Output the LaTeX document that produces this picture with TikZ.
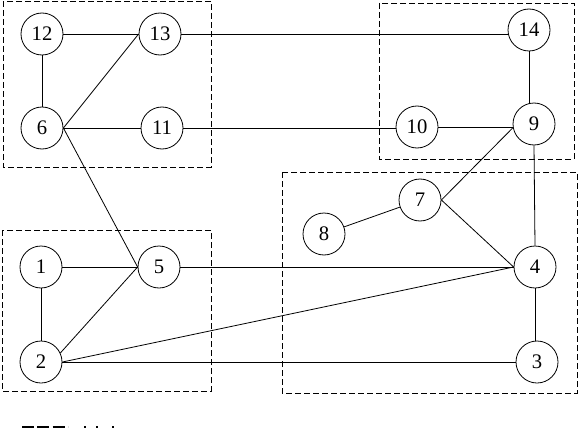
\documentclass[tikz,border=0pt]{standalone}
\usepackage{fontspec}
\setmainfont{Liberation Serif}
\begin{document}
\begin{tikzpicture}[x=0.75pt,y=-0.75pt,
  vtx/.style={circle,draw,line width=0.6pt,minimum size=31.5pt,inner sep=0pt,font=\fontsize{15.5}{15.5}\selectfont},
  grp/.style={draw,line width=0.6pt,dash pattern=on 4.5pt off 2.25pt},
  edge/.style={line width=0.6pt}]
\useasboundingbox (0,0) rectangle (578,428);
% groups
\draw[grp] (3,1) rectangle (211,167);
\draw[grp] (379,3) rectangle (574,159);
\draw[grp] (282,172) rectangle (577,393);
\draw[grp] (2,230) rectangle (211,391);
% nodes
\node[vtx] (n12) at (42,34) {12};
\node[vtx] (n13) at (160,34) {13};
\node[vtx] (n6) at (42,128) {6};
\node[vtx] (n11) at (162,128) {11};
\node[vtx] (n14) at (529,30) {14};
\node[vtx] (n10) at (417,127) {10};
\node[vtx] (n9) at (534,124) {9};
\node[vtx] (n7) at (420,200) {7};
\node[vtx] (n8) at (324,234) {8};
\node[vtx] (n4) at (535,267) {4};
\node[vtx] (n3) at (537,362) {3};
\node[vtx] (n1) at (41,267) {1};
\node[vtx] (n5) at (159,267) {5};
\node[vtx] (n2) at (41,362) {2};
% edges
\draw[edge] (n12.east) -- (n13.west);
\draw[edge] (n12.south) -- (n6.north);
\draw[edge] (n6.east) -- (n13.west);
\draw[edge] (n6.east) -- (n11.west);
\draw[edge] (n6.east) -- (n5.west);
\draw[edge] (n13.east) -- (n13.east -| n14.west);
\draw[edge] (n11.east) -- (n11.east -| n10.west);
\draw[edge] (n10.east) -- (n10.east -| n9.west);
\draw[edge] (n14.south) -- (n14.south |- n9.north);
\draw[edge] (n9.190) -- (n7.east);
\draw[edge] (n9.south) -- (n4.north);
\draw[edge] (n7) -- (n8);
\draw[edge] (n7.east) -- (n4.west);
\draw[edge] (n5.east) -- (n4.west);
\draw[edge] (n2.east) -- (n4.west);
\draw[edge] (n4.south) -- (n4.south |- n3.north);
\draw[edge] (n2.east) -- (n3.west);
\draw[edge] (n1.east) -- (n5.west);
\draw[edge] (n1.south) -- (n2.north);
\draw[edge] (n2.25) -- (n5.west);
% cut-off legend marks at bottom
\draw[line width=1.2pt,dash pattern=on 9pt off 2.5pt] (22,427) -- (68,427);
\fill (84,426) rectangle (86,428);
\fill (96,426) rectangle (98,428);
\fill (112,426) rectangle (114,428);
\end{tikzpicture}
\end{document}
